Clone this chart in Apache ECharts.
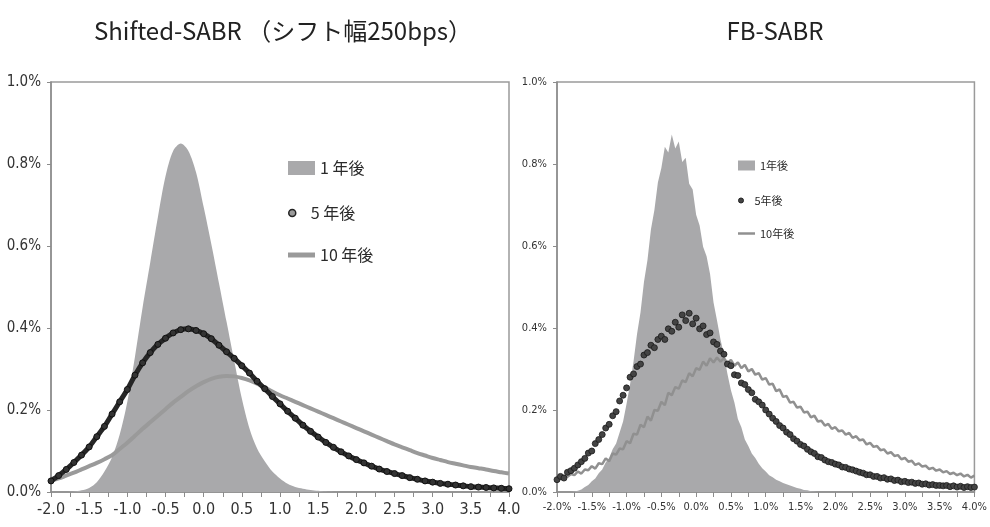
<!DOCTYPE html>
<html><head><meta charset="utf-8">
<script src="https://cdn.jsdelivr.net/npm/echarts@6/dist/echarts.min.js"></script>
<style>html,body{margin:0;padding:0;background:#fff}#c{width:990px;height:527px}</style>
</head><body><div id="c"></div>
<script>
// ---------- titles & names ----------
const titleLeft = 'Shifted-SABR （シフト幅250bps）';
const titleRight = 'FB-SABR';
const namesLeft = ['1 年後', '5 年後', '10 年後'];
const namesRight = ['1年後', '5年後', '10年後'];

// ---------- left panel (Shifted-SABR), x step 0.1 ----------
const xLeft = [-2.0,-1.9,-1.8,-1.7,-1.6,-1.5,-1.4,-1.3,-1.2,-1.1,-1.0,-0.9,-0.8,-0.7,-0.6,-0.5,-0.4,-0.3,-0.2,-0.1,
  0.0,0.1,0.2,0.3,0.4,0.5,0.6,0.7,0.8,0.9,1.0,1.1,1.2,1.3,1.4,1.5,1.6,1.7,1.8,1.9,
  2.0,2.1,2.2,2.3,2.4,2.5,2.6,2.7,2.8,2.9,3.0,3.1,3.2,3.3,3.4,3.5,3.6,3.7,3.8,3.9,4.0];
const leftY1 = [0,0,0,0.001,0.004,0.010,0.024,0.050,0.085,0.140,0.220,0.330,0.450,0.560,0.670,0.770,0.832,0.850,0.832,0.780,
  0.695,0.605,0.510,0.415,0.320,0.228,0.155,0.106,0.075,0.050,0.033,0.020,0.012,0.008,0.005,0.003,0.001,0,0,0,
  0,0,0,0,0,0,0,0,0,0,0,0,0,0,0,0,0,0,0,0,0];
const leftY5 = [0.027,0.040,0.055,0.072,0.090,0.110,0.135,0.160,0.190,0.220,0.250,0.285,0.315,0.340,0.360,0.375,0.388,0.396,0.398,0.394,
  0.386,0.374,0.358,0.342,0.326,0.308,0.290,0.270,0.252,0.233,0.215,0.197,0.180,0.163,0.148,0.134,0.121,0.109,0.098,0.088,
  0.079,0.071,0.063,0.056,0.050,0.045,0.040,0.035,0.031,0.027,0.024,0.021,0.019,0.017,0.015,0.013,0.012,0.011,0.010,0.009,0.008];
const leftY10 = [0.027,0.033,0.040,0.047,0.055,0.063,0.071,0.080,0.090,0.105,0.120,0.137,0.154,0.170,0.186,0.202,0.218,0.232,0.246,0.258,
  0.268,0.276,0.281,0.283,0.282,0.278,0.272,0.264,0.255,0.245,0.236,0.228,0.220,0.212,0.204,0.196,0.188,0.180,0.172,0.164,
  0.156,0.148,0.140,0.132,0.124,0.116,0.109,0.102,0.095,0.089,0.083,0.078,0.073,0.069,0.065,0.061,0.058,0.055,0.051,0.048,0.045];

// ---------- right panel (FB-SABR), x step 0.05 ----------
const xRight = [-2.00,-1.95,-1.90,-1.85,-1.80,-1.75,-1.70,-1.65,-1.60,-1.55,-1.50,-1.45,-1.40,-1.35,-1.30,-1.25,-1.20,-1.15,-1.10,-1.05,
  -1.00,-0.95,-0.90,-0.85,-0.80,-0.75,-0.70,-0.65,-0.60,-0.55,-0.50,-0.45,-0.40,-0.35,-0.30,-0.25,-0.20,-0.15,-0.10,-0.05,
  0.00,0.05,0.10,0.15,0.20,0.25,0.30,0.35,0.40,0.45,0.50,0.55,0.60,0.65,0.70,0.75,0.80,0.85,0.90,0.95,
  1.00,1.05,1.10,1.15,1.20,1.25,1.30,1.35,1.40,1.45,1.50,1.55,1.60,1.65,1.70,1.75,1.80,1.85,1.90,1.95,
  2.00,2.05,2.10,2.15,2.20,2.25,2.30,2.35,2.40,2.45,2.50,2.55,2.60,2.65,2.70,2.75,2.80,2.85,2.90,2.95,
  3.00,3.05,3.10,3.15,3.20,3.25,3.30,3.35,3.40,3.45,3.50,3.55,3.60,3.65,3.70,3.75,3.80,3.85,3.90,3.95,4.00];
const rightY1 = [0,0,0,0,0,0.001,0.003,0.006,0.012,0.017,0.026,0.033,0.046,0.055,0.072,0.083,0.104,0.118,0.145,0.172,
  0.215,0.262,0.318,0.385,0.438,0.512,0.565,0.640,0.688,0.755,0.790,0.842,0.828,0.872,0.838,0.855,0.805,0.815,0.752,0.738,
  0.676,0.650,0.598,0.575,0.532,0.462,0.418,0.372,0.335,0.288,0.248,0.218,0.178,0.158,0.128,0.112,0.094,0.083,0.069,0.058,
  0.050,0.041,0.036,0.030,0.026,0.022,0.019,0.016,0.013,0.010,0.008,0.005,0.004,0.002,0.001,0,0,0,0,0,
  0,0,0,0,0,0,0,0,0,0,0,0,0,0,0,0,0,0,0,0,
  0,0,0,0,0,0,0,0,0,0,0,0,0,0,0,0,0,0,0,0,0];
const rightY5 = [0.030,0.038,0.034,0.048,0.052,0.058,0.066,0.074,0.082,0.095,0.100,0.118,0.128,0.140,0.156,0.165,0.186,0.196,0.222,0.236,
  0.254,0.280,0.288,0.306,0.312,0.334,0.340,0.358,0.352,0.372,0.380,0.372,0.398,0.392,0.414,0.402,0.432,0.418,0.436,0.410,
  0.424,0.398,0.405,0.384,0.388,0.366,0.360,0.344,0.336,0.312,0.308,0.286,0.284,0.266,0.262,0.250,0.242,0.226,0.220,0.212,
  0.200,0.190,0.180,0.172,0.162,0.156,0.146,0.140,0.130,0.124,0.116,0.112,0.104,0.098,0.094,0.086,0.084,0.078,0.074,0.072,
  0.068,0.066,0.061,0.060,0.056,0.054,0.051,0.048,0.046,0.042,0.042,0.038,0.038,0.034,0.035,0.031,0.032,0.028,0.029,0.025,
  0.026,0.023,0.024,0.021,0.022,0.019,0.020,0.017,0.018,0.016,0.016,0.015,0.016,0.013,0.015,0.012,0.014,0.011,0.013,0.011,0.012];
const rightY10 = [0.036,0.031,0.040,0.037,0.044,0.041,0.050,0.045,0.055,0.053,0.063,0.057,0.070,0.068,0.082,0.075,0.094,0.091,0.106,0.104,
  0.124,0.119,0.142,0.140,0.164,0.158,0.184,0.174,0.200,0.198,0.220,0.212,0.242,0.236,0.256,0.252,0.272,0.268,0.290,0.282,
  0.302,0.298,0.318,0.308,0.326,0.316,0.328,0.318,0.326,0.314,0.322,0.308,0.316,0.302,0.310,0.294,0.300,0.286,0.290,0.274,
  0.278,0.262,0.264,0.246,0.250,0.232,0.234,0.218,0.220,0.206,0.208,0.194,0.196,0.182,0.186,0.172,0.174,0.162,0.166,0.154,
  0.158,0.148,0.150,0.140,0.144,0.132,0.136,0.126,0.128,0.116,0.120,0.110,0.112,0.102,0.104,0.094,0.097,0.088,0.090,0.080,
  0.083,0.074,0.076,0.066,0.070,0.062,0.064,0.056,0.059,0.052,0.055,0.048,0.051,0.044,0.047,0.041,0.045,0.038,0.042,0.035,0.040];

// ---------- axis ticks ----------
const xMin = -2, xMax = 4, xTickStep = 0.25;
const yMin = 0, yMax = 1.0, yTickStep = 0.2;

// ---------- rendering ----------
const NARROW = "'Liberation Sans Narrow','DejaVu Sans Condensed','Noto Sans CJK JP',sans-serif";
const JP = "'Noto Sans CJK JP','Noto Sans',sans-serif";
const pair = (xs, ys) => xs.map((x, i) => [x, ys[i]]);
const AX = '#8c8c8c';
const FILL = '#a9a9ab';

function xFmt(pct) {
  return function (v) {
    const k = Math.round(v * 4);
    if (Math.abs(k) % 2 !== 0) return '';
    return (k / 4).toFixed(1) + (pct ? '%' : '');
  };
}
function xAxisCfg(gi, pct, fs, margin) {
  return {
    type: 'value', gridIndex: gi, min: xMin, max: xMax, interval: xTickStep,
    axisLine: { onZero: false, lineStyle: { color: AX, width: 1.5 } },
    axisTick: { length: 5, lineStyle: { color: AX, width: 1 } },
    axisLabel: { formatter: xFmt(pct), fontSize: fs, color: '#333', fontFamily: NARROW, margin: margin },
    splitLine: { show: false }
  };
}
function yAxisCfg(gi, fs, margin) {
  return {
    type: 'value', gridIndex: gi, min: yMin, max: yMax, interval: yTickStep,
    axisLine: { show: true, onZero: false, lineStyle: { color: AX, width: 1.5 } },
    axisTick: { show: true, length: 4, lineStyle: { color: AX } },
    axisLabel: { formatter: v => v.toFixed(1) + '%', fontSize: fs, color: '#333', fontFamily: NARROW, margin: margin },
    splitLine: { show: false }
  };
}
function leg(name, left, top, icon, w, h, fs, extra) {
  return {
    left: left, top: top, itemWidth: w, itemHeight: h, selectedMode: false,
    data: [Object.assign({ name: name, icon: icon }, extra || {})],
    textStyle: { fontSize: fs, color: '#2a2a2a', fontFamily: JP }
  };
}

const chart = echarts.init(document.getElementById('c'), null, { renderer: 'canvas' });
chart.setOption({
  animation: false,
  backgroundColor: '#fff',
  title: [
    { text: titleLeft, left: 278, top: 14, textAlign: 'center',
      textStyle: { fontSize: 24, fontWeight: 'normal', color: '#222', fontFamily: JP } },
    { text: titleRight, left: 770, top: 14, textAlign: 'center',
      textStyle: { fontSize: 24, fontWeight: 'normal', color: '#222', fontFamily: JP } }
  ],
  grid: [
    { left: 51, top: 82, width: 458, height: 410, show: true, borderColor: '#9a9a9a', borderWidth: 1.5 },
    { left: 557, top: 82, width: 423, height: 410, show: true, borderColor: '#9a9a9a', borderWidth: 1.5 }
  ],
  xAxis: [xAxisCfg(0, false, 16, 10), xAxisCfg(1, true, 11, 10)],
  yAxis: [yAxisCfg(0, 15, 10), yAxisCfg(1, 11, 10)],
  legend: [
    leg(namesLeft[0], 283, 155, 'rect', 27, 14, 16),
    leg(namesLeft[1], 283, 200, 'circle', 27, 7, 16, { itemStyle: { color: '#9a9a9a', borderColor: '#222', borderWidth: 1.5 } }),
    leg(namesLeft[2], 283, 242, 'rect', 27, 5, 16),
    leg(namesRight[0], 733, 155, 'rect', 17, 10, 11),
    leg(namesRight[1], 733, 190, 'circle', 17, 5, 11, { itemStyle: { color: '#444', borderColor: '#222', borderWidth: 1 } }),
    leg(namesRight[2], 733, 223, 'rect', 17, 2.5, 11)
  ],
  series: [
    { name: namesLeft[0], type: 'line', z: 1, xAxisIndex: 0, yAxisIndex: 0, data: pair(xLeft, leftY1), smooth: 0.3,
      showSymbol: false, lineStyle: { width: 0 }, itemStyle: { color: FILL }, areaStyle: { color: FILL, opacity: 1 } },
    { name: namesLeft[2], type: 'line', z: 3, xAxisIndex: 0, yAxisIndex: 0, data: pair(xLeft, leftY10), smooth: 0.3,
      showSymbol: false, lineStyle: { width: 4, color: '#9a9a9a' }, itemStyle: { color: '#9a9a9a' } },
    { name: namesLeft[1], type: 'line', z: 4, xAxisIndex: 0, yAxisIndex: 0, data: pair(xLeft, leftY5), smooth: 0.3,
      symbol: 'circle', symbolSize: 6, showSymbol: true,
      lineStyle: { width: 5, color: '#262626' }, itemStyle: { color: '#333', borderColor: '#111', borderWidth: 1 } },

    { name: namesRight[0], type: 'line', z: 1, xAxisIndex: 1, yAxisIndex: 1, data: pair(xRight, rightY1),
      showSymbol: false, lineStyle: { width: 0 }, itemStyle: { color: FILL }, areaStyle: { color: FILL, opacity: 1 } },
    { name: namesRight[2], type: 'line', z: 3, xAxisIndex: 1, yAxisIndex: 1, data: pair(xRight, rightY10),
      showSymbol: false, lineStyle: { width: 2.5, color: '#909090' }, itemStyle: { color: '#909090' } },
    { name: namesRight[1], type: 'scatter', z: 4, xAxisIndex: 1, yAxisIndex: 1, data: pair(xRight, rightY5),
      symbol: 'circle', symbolSize: 6, itemStyle: { color: '#444', borderColor: '#1a1a1a', borderWidth: 0.8, opacity: 1 } }
  ]
});
</script></body></html>
